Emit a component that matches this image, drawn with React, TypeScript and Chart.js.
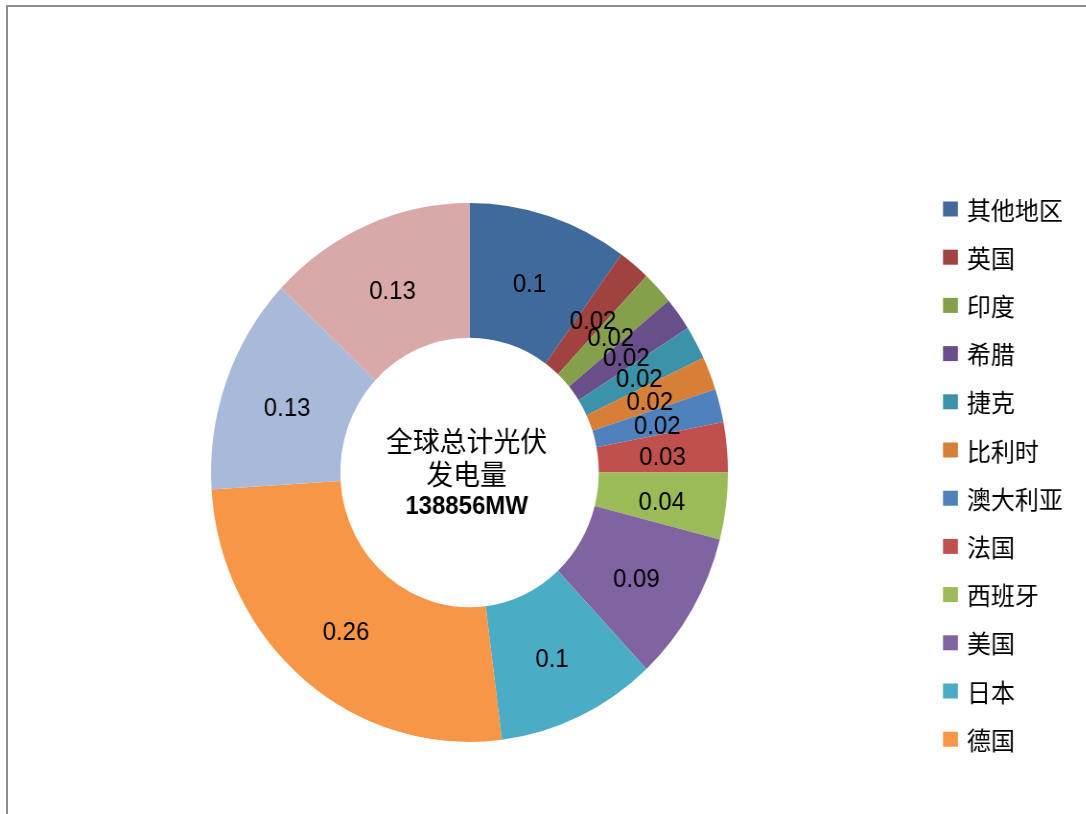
import React, { useEffect, useRef } from "react";
import { Chart, registerables } from "chart.js";

Chart.register(...registerables);

// ---- data ----
const regions = ["其他地区", "英国", "印度", "希腊", "捷克", "比利时", "澳大利亚", "法国", "西班牙", "美国", "日本", "德国", "意大利", "中国"];
const shares = [0.1, 0.02, 0.02, 0.02, 0.02, 0.02, 0.02, 0.03, 0.04, 0.09, 0.1, 0.26, 0.13, 0.13];
const sliceColors = [
  "#416A9C", "#A0423F", "#84A04B", "#694F8A", "#3C92A8", "#D77E37",
  "#4F81BD", "#C0504D", "#9BBB59", "#8064A2", "#4BACC6", "#F79646",
  "#A8B9D9", "#D9A9A9",
];
const centerLines = ["全球总计光伏", "发电量"];
const totalLabel = "138856MW";
const legendCount = 12;

// ---- layout (canvas is drawn wider, then squeezed horizontally) ----
const SX = 0.959;
const W = Math.round(1086 / SX);
const H = 814;
const CJK = "'Noto Sans CJK SC', 'Noto Sans', sans-serif";
const LATIN = "'Liberation Sans', Arial, sans-serif";

const sliceLabelPlugin = {
  id: "sliceLabels",
  afterDatasetsDraw(chart: any) {
    const ctx = chart.ctx;
    const meta = chart.getDatasetMeta(0);
    const data = chart.data.datasets[0].data;
    ctx.save();
    ctx.fillStyle = "#000";
    ctx.textAlign = "center";
    ctx.textBaseline = "middle";
    ctx.font = `25px ${LATIN}`;
    meta.data.forEach((arc: any, i: number) => {
      const p = arc.getCenterPoint();
      ctx.fillText(String(data[i]), p.x, p.y + 5);
    });
    const c = meta.data[0];
    const cx = c.x - 3;
    const cy = c.y;
    ctx.font = `28px ${CJK}`;
    ctx.fillText(centerLines[0], cx, cy - 31);
    ctx.fillText(centerLines[1], cx, cy + 2);
    ctx.font = `bold 25px ${LATIN}`;
    ctx.fillText(totalLabel, cx, cy + 35);
    ctx.restore();
  },
};

const sideLegendPlugin = {
  id: "sideLegend",
  afterDraw(chart: any) {
    const ctx = chart.ctx;
    const labels = chart.data.labels.slice(0, legendCount);
    const colors = chart.data.datasets[0].backgroundColor;
    const x0 = 943 / SX;
    const tx = 967 / SX;
    const y0 = 209;
    const step = 48.2;
    ctx.save();
    ctx.textBaseline = "middle";
    ctx.textAlign = "left";
    ctx.font = `25px ${CJK}`;
    labels.forEach((lab: string, i: number) => {
      const y = y0 + i * step;
      ctx.fillStyle = colors[i];
      ctx.fillRect(x0, y - 7.5, 15.5, 15);
      ctx.fillStyle = "#000";
      ctx.fillText(lab, tx, y + 1);
    });
    ctx.restore();
  },
};

export default function App() {
  const ref = useRef<HTMLCanvasElement>(null);

  useEffect(() => {
    if (!ref.current) return;
    const cx = 469.5 / SX;
    const r = 269.5;
    const chart = new Chart(ref.current, {
      type: "doughnut",
      data: {
        labels: regions,
        datasets: [
          {
            data: shares,
            backgroundColor: sliceColors,
            borderWidth: 0,
            hoverOffset: 0,
          },
        ],
      },
      options: {
        responsive: false,
        animation: false,
        cutout: "50%",
        layout: {
          padding: {
            left: cx - r,
            right: W - (cx + r),
            top: 203,
            bottom: H - 203 - 2 * r,
          },
        },
        plugins: {
          legend: { display: false },
          tooltip: { enabled: false },
        },
      },
      plugins: [sliceLabelPlugin, sideLegendPlugin],
    });
    return () => chart.destroy();
  }, []);

  return (
    <div style={{ position: "fixed", left: 0, top: 0, width: 1086, height: 814, overflow: "hidden", background: "#fff" }}>
      <div
        style={{
          position: "absolute",
          left: 0,
          top: 0,
          width: W,
          height: H,
          transform: `scaleX(${SX})`,
          transformOrigin: "0 0",
        }}
      >
        <canvas ref={ref} width={W} height={H} style={{ display: "block" }} />
      </div>
      <div
        style={{
          position: "absolute",
          left: 6,
          top: 5,
          width: 1200,
          height: 1000,
          border: "2px solid #8c8c8c",
          boxSizing: "border-box",
          pointerEvents: "none",
        }}
      />
    </div>
  );
}
